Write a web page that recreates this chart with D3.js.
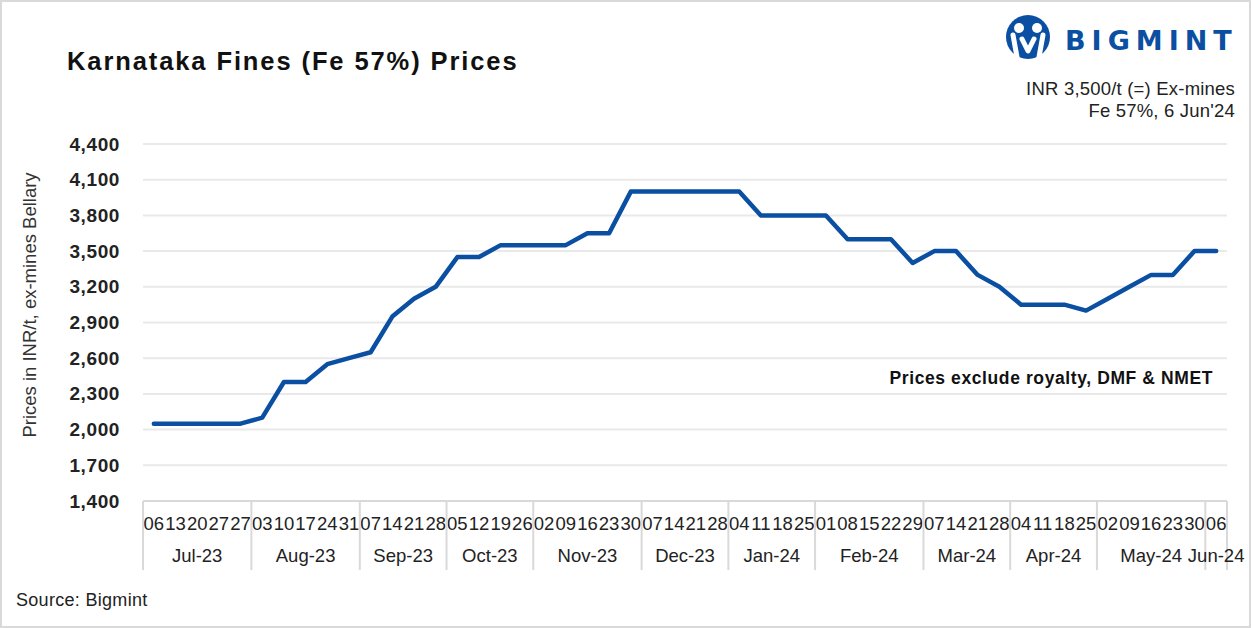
<!DOCTYPE html>
<html>
<head>
<meta charset="utf-8">
<script src="https://cdn.jsdelivr.net/npm/d3@7"></script>
<style>
	body{margin:0;background:#fff;}
	text{font-family:"Liberation Sans",Arial,sans-serif;}
</style>
</head>
<body>
<div id="chart"></div>
<script>

// weekly assessment dates (day of month) and the month each belongs to
const days = ["06","13","20","27","27","03","10","17","24","31","07","14","21","28","05","12","19","26",
	"02","09","16","23","30","07","14","21","28","04","11","18","25","01","08","15","22","29",
	"07","14","21","28","04","11","18","25","02","09","16","23","30","06"]

const months = [
	"Jul-23","Jul-23","Jul-23","Jul-23","Jul-23",
	"Aug-23","Aug-23","Aug-23","Aug-23","Aug-23",
	"Sep-23","Sep-23","Sep-23","Sep-23",
	"Oct-23","Oct-23","Oct-23","Oct-23",
	"Nov-23","Nov-23","Nov-23","Nov-23","Nov-23",
	"Dec-23","Dec-23","Dec-23","Dec-23",
	"Jan-24","Jan-24","Jan-24","Jan-24",
	"Feb-24","Feb-24","Feb-24","Feb-24","Feb-24",
	"Mar-24","Mar-24","Mar-24","Mar-24",
	"Apr-24","Apr-24","Apr-24","Apr-24",
	"May-24","May-24","May-24","May-24","May-24",
	"Jun-24"]

const prices = [2050,2050,2050,2050,2050,2100,2400,2400,2550,2600,
	2650,2950,3100,3200,3450,3450,3550,3550,3550,3550,
	3650,3650,4000,4000,4000,4000,4000,4000,3800,3800,
	3800,3800,3600,3600,3600,3400,3500,3500,3300,3200,
	3050,3050,3050,3000,3100,3200,3300,3300,3500,3500]

const yTicks = [1400,1700,2000,2300,2600,2900,3200,3500,3800,4100,4400]

const W = 1251, H = 628
const plot = {left:143, right:1227, top:144, bottom:501}
const blue = "#0a4fa2"

const svg = d3.select("#chart").append("svg")
	.attr("width",W).attr("height",H)

svg.append("rect")
	.attr("x",1).attr("y",1).attr("width",W-2).attr("height",H-2)
	.attr("fill","#fff").attr("stroke","#d9d9d9").attr("stroke-width",2)

const x = d3.scaleBand()
	.domain(d3.range(days.length))
	.range([plot.left,plot.right])

const y = d3.scaleLinear()
	.domain([1400,4400])
	.range([plot.bottom,plot.top])

// gridlines
svg.append("g").selectAll("line").data(yTicks).enter().append("line")
	.attr("x1",plot.left).attr("x2",plot.right)
	.attr("y1",d=>y(d)).attr("y2",d=>y(d))
	.attr("stroke",d=>d==1400 ? "#d9d9d9" : "#e9e9e9")
	.attr("stroke-width",2)

// y tick labels
const yAxis = svg.append("g")
	.attr("transform","translate("+(plot.left-23)+",0)")
	.call(d3.axisLeft(y).tickValues(yTicks).tickSize(0).tickPadding(0).tickFormat(d3.format(",")))
yAxis.select(".domain").remove()
yAxis.selectAll("text")
	.style("font-family","'Liberation Sans',Arial,sans-serif")
	.style("font-size","19px").style("font-weight","bold")
	.style("letter-spacing","0.6px")
	.attr("fill","#222")

svg.append("text")
	.attr("transform","translate(36,305) rotate(-90)")
	.attr("text-anchor","middle")
	.style("font-size","18.5px").attr("fill","#333")
	.text("Prices in INR/t, ex-mines Bellary")

// category axis: day labels, month groups and separators
svg.append("g").selectAll("text").data(days).enter().append("text")
	.attr("x",(d,i)=>x(i)+x.bandwidth()/2)
	.attr("y",530)
	.attr("text-anchor","middle")
	.style("font-size","18.5px").attr("fill","#222")
	.text(d=>d)

const groups = d3.groups(d3.range(months.length),i=>months[i])
const edges = [0].concat(groups.map(g=>g[1][g[1].length-1]+1))

svg.append("g").selectAll("line").data(edges).enter().append("line")
	.attr("x1",i=>i==days.length ? plot.right : x(i))
	.attr("x2",i=>i==days.length ? plot.right : x(i))
	.attr("y1",plot.bottom).attr("y2",570)
	.attr("stroke","#d9d9d9").attr("stroke-width",2)

svg.append("g").selectAll("text").data(groups).enter().append("text")
	.attr("x",g=>(x(g[1][0])+x(g[1][g[1].length-1])+x.bandwidth())/2)
	.attr("y",562)
	.attr("text-anchor","middle")
	.style("font-size","18.5px").attr("fill","#222")
	.text(g=>g[0])

// price line
const line = d3.line()
	.x((d,i)=>x(i)+x.bandwidth()/2)
	.y(d=>y(d))

svg.append("path")
	.datum(prices)
	.attr("d",line)
	.attr("fill","none")
	.attr("stroke",blue)
	.attr("stroke-width",4.5)
	.attr("stroke-linejoin","round")
	.attr("stroke-linecap","round")

// titles and notes
svg.append("text")
	.attr("x",67).attr("y",70)
	.style("font-size","25.5px").style("font-weight","bold")
	.style("letter-spacing","1.9px").attr("fill","#111")
	.text("Karnataka Fines (Fe 57%) Prices")

svg.append("text")
	.attr("x",1213).attr("y",384)
	.attr("text-anchor","end")
	.style("font-size","17.5px").style("font-weight","bold")
	.style("letter-spacing","0.6px").attr("fill","#111")
	.text("Prices exclude royalty, DMF & NMET")

svg.append("text")
	.attr("x",1235).attr("y",95)
	.attr("text-anchor","end")
	.style("font-size","18.5px").style("letter-spacing","0.2px").attr("fill","#222")
	.text("INR 3,500/t (=) Ex-mines")

svg.append("text")
	.attr("x",1235).attr("y",117)
	.attr("text-anchor","end")
	.style("font-size","18.5px").style("letter-spacing","0.2px").attr("fill","#222")
	.text("Fe 57%, 6 Jun'24")

svg.append("text")
	.attr("x",16).attr("y",606)
	.style("font-size","18px").style("letter-spacing","0.3px").attr("fill","#222")
	.text("Source: Bigmint")

// logo
const logo = svg.append("g").attr("transform","translate(1028,37)")
logo.append("circle").attr("r",22).attr("fill",blue)
logo.append("circle").attr("cx",-9).attr("cy",-9).attr("r",5).attr("fill","#fff")
logo.append("circle").attr("cx",9).attr("cy",-9).attr("r",5).attr("fill","#fff")
logo.append("path")
	.attr("d","M-15,-2 L-11,20 M15,-2 L11,20 M-6,2 L0,14 L6,2")
	.attr("fill","none").attr("stroke","#fff").attr("stroke-width",5)
	.attr("stroke-linecap","round").attr("stroke-linejoin","round")

svg.append("text")
	.attr("x",1065).attr("y",50)
	.style("font-family","'DejaVu Sans',sans-serif")
	.style("font-size","27px").style("font-weight","bold")
	.style("letter-spacing","6px")
	.attr("fill",blue)
	.text("BIGMINT")

</script>
</body>
</html>
